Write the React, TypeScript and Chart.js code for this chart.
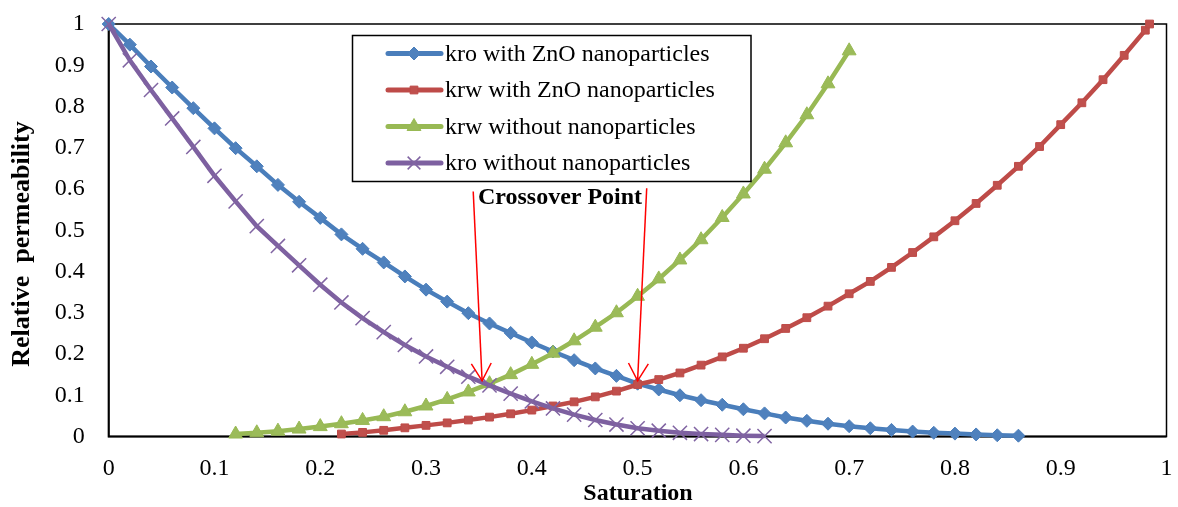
import React, { useEffect, useRef } from 'react';
import { Chart, registerables } from 'chart.js';
import { drawPoint } from 'chart.js/helpers';

Chart.register(...registerables);

// ---------- data ----------
const satKroZnO = [0, 0.02, 0.04, 0.06, 0.08, 0.1, 0.12, 0.14, 0.16, 0.18, 0.2, 0.22, 0.24, 0.26, 0.28, 0.3, 0.32, 0.34, 0.36, 0.38, 0.4, 0.42, 0.44, 0.46, 0.48, 0.5, 0.52, 0.54, 0.56, 0.58, 0.6, 0.62, 0.64, 0.66, 0.68, 0.7, 0.72, 0.74, 0.76, 0.78, 0.8, 0.82, 0.84, 0.86];
const kroZnO = [1.0, 0.95, 0.897, 0.846, 0.796, 0.747, 0.699, 0.655, 0.61, 0.569, 0.53, 0.49, 0.455, 0.422, 0.388, 0.356, 0.327, 0.299, 0.274, 0.251, 0.228, 0.206, 0.185, 0.165, 0.147, 0.128, 0.114, 0.1, 0.088, 0.077, 0.066, 0.056, 0.046, 0.038, 0.031, 0.025, 0.02, 0.016, 0.012, 0.009, 0.007, 0.005, 0.003, 0.002];

const satKrwZnO = [0.22, 0.24, 0.26, 0.28, 0.3, 0.32, 0.34, 0.36, 0.38, 0.4, 0.42, 0.44, 0.46, 0.48, 0.5, 0.52, 0.54, 0.56, 0.58, 0.6, 0.62, 0.64, 0.66, 0.68, 0.7, 0.72, 0.74, 0.76, 0.78, 0.8, 0.82, 0.84, 0.86, 0.88, 0.9, 0.92, 0.94, 0.96, 0.98, 0.984];
const krwZnO = [0.006, 0.01, 0.015, 0.021, 0.027, 0.033, 0.04, 0.047, 0.055, 0.064, 0.074, 0.084, 0.096, 0.11, 0.126, 0.138, 0.154, 0.173, 0.193, 0.214, 0.237, 0.262, 0.288, 0.316, 0.346, 0.376, 0.41, 0.446, 0.484, 0.523, 0.565, 0.609, 0.655, 0.703, 0.756, 0.809, 0.865, 0.924, 0.985, 1.0];

const satKrwNo = [0.12, 0.14, 0.16, 0.18, 0.2, 0.22, 0.24, 0.26, 0.28, 0.3, 0.32, 0.34, 0.36, 0.38, 0.4, 0.42, 0.44, 0.46, 0.48, 0.5, 0.52, 0.54, 0.56, 0.58, 0.6, 0.62, 0.64, 0.66, 0.68, 0.7];
const krwNo = [0.006, 0.009, 0.013, 0.018, 0.024, 0.031, 0.039, 0.048, 0.06, 0.074, 0.09, 0.108, 0.128, 0.15, 0.175, 0.202, 0.232, 0.265, 0.3, 0.34, 0.382, 0.428, 0.477, 0.531, 0.588, 0.648, 0.712, 0.78, 0.855, 0.935];

const satKroNo = [0, 0.02, 0.04, 0.06, 0.08, 0.1, 0.12, 0.14, 0.16, 0.18, 0.2, 0.22, 0.24, 0.26, 0.28, 0.3, 0.32, 0.34, 0.36, 0.38, 0.4, 0.42, 0.44, 0.46, 0.48, 0.5, 0.52, 0.54, 0.56, 0.58, 0.6, 0.62];
const kroNo = [1.0, 0.912, 0.84, 0.771, 0.702, 0.632, 0.57, 0.51, 0.462, 0.415, 0.368, 0.325, 0.287, 0.253, 0.222, 0.194, 0.169, 0.145, 0.124, 0.104, 0.085, 0.068, 0.053, 0.04, 0.029, 0.02, 0.014, 0.009, 0.006, 0.004, 0.002, 0.001];

const seriesNames = ['kro with ZnO nanoparticles', 'krw with ZnO nanoparticles', 'krw without nanoparticles', 'kro without nanoparticles'];

// tick labels (both axes)
const tickValues = [0, 0.1, 0.2, 0.3, 0.4, 0.5, 0.6, 0.7, 0.8, 0.9, 1];
const tickLabels = ['0', '0.1', '0.2', '0.3', '0.4', '0.5', '0.6', '0.7', '0.8', '0.9', '1'];

// crossover annotation (data coordinates)
const crossoverLabel = 'Crossover Point';
const arrowFrom = [[0.3446, 0.594], [0.5086, 0.602]];
const arrowTo = [[0.353, 0.135], [0.5, 0.135]];

const xTitle = 'Saturation';
const yTitle = 'Relative  permeability';

// ---------- styles ----------
const SERIF = "'Liberation Serif', 'Times New Roman', serif";
const styles = [
  { line: '#4A7EBB', fill: '#4F81BD', pointStyle: 'rectRot', radius: 6.5, pbw: 1 },
  { line: '#BE4B48', fill: '#C0504D', pointStyle: 'rect', radius: 5.5, pbw: 1 },
  { line: '#98B954', fill: '#9BBB59', pointStyle: 'triangle', radius: 8, pbw: 1 },
  { line: '#7D60A0', fill: '#8064A2', pointStyle: 'crossRot', radius: 10, pbw: 1.5 },
];

const toXY = (xs: number[], ys: number[]) => xs.map((x, i) => ({ x, y: ys[i] }));

const tickLabel = (v: number) => {
  const idx = tickValues.findIndex((t) => Math.abs(t - v) < 1e-6);
  return idx >= 0 ? tickLabels[idx] : '';
};

const overlayPlugin = {
  id: 'overlay',
  beforeDatasetsDraw(chart: any) {
    const { ctx, chartArea: a } = chart;
    ctx.save();
    ctx.strokeStyle = '#000';
    ctx.lineWidth = 1.5;
    ctx.strokeRect(a.left, a.top, a.right - a.left, a.bottom - a.top);
    ctx.lineWidth = 2;
    ctx.beginPath();
    ctx.moveTo(a.left, a.top);
    ctx.lineTo(a.left, a.bottom);
    ctx.lineTo(a.right, a.bottom);
    ctx.stroke();
    ctx.restore();
  },
  afterDraw(chart: any) {
    const { ctx, scales } = chart;
    const xs = scales.x;
    const ys = scales.y;
    ctx.save();

    // axis titles
    ctx.fillStyle = '#000';
    ctx.font = `bold 24px ${SERIF}`;
    ctx.textAlign = 'center';
    ctx.textBaseline = 'alphabetic';
    ctx.fillText(xTitle, 638, 500);

    ctx.save();
    ctx.translate(29, 244);
    ctx.rotate(-Math.PI / 2);
    ctx.font = `bold 26px ${SERIF}`;
    ctx.fillText(yTitle, 0, 0);
    ctx.restore();

    // legend
    const box = { l: 352.5, t: 35.5, r: 751, b: 181.5 };
    ctx.fillStyle = '#fff';
    ctx.fillRect(box.l, box.t, box.r - box.l, box.b - box.t);
    ctx.strokeStyle = '#000';
    ctx.lineWidth = 1.5;
    ctx.strokeRect(box.l, box.t, box.r - box.l, box.b - box.t);
    seriesNames.forEach((name, i) => {
      const s = styles[i];
      const y = 53.5 + i * 36.5;
      ctx.strokeStyle = s.line;
      ctx.lineWidth = 5;
      ctx.lineCap = 'round';
      ctx.beginPath();
      ctx.moveTo(388, y);
      ctx.lineTo(441, y);
      ctx.stroke();
      ctx.lineCap = 'butt';
      ctx.fillStyle = s.fill;
      ctx.strokeStyle = s.pointStyle === 'crossRot' ? s.fill : s.line;
      ctx.lineWidth = s.pbw;
      drawPoint(ctx, { pointStyle: s.pointStyle, radius: s.pointStyle === 'crossRot' ? 9 : s.radius, rotation: 0, borderWidth: s.pbw } as any, 414, y);
      ctx.fillStyle = '#000';
      ctx.font = `24px ${SERIF}`;
      ctx.textAlign = 'left';
      ctx.textBaseline = 'middle';
      ctx.fillText(name, 445, y + 1);
    });

    // crossover label + arrows
    ctx.fillStyle = '#000';
    ctx.font = `bold 24px ${SERIF}`;
    ctx.textAlign = 'center';
    ctx.textBaseline = 'alphabetic';
    ctx.fillText(crossoverLabel, 560, 204);

    ctx.strokeStyle = '#FF0000';
    ctx.lineWidth = 1.5;
    arrowFrom.forEach((from, i) => {
      const x0 = xs.getPixelForValue(from[0]);
      const y0 = ys.getPixelForValue(from[1]);
      const x1 = xs.getPixelForValue(arrowTo[i][0]);
      const y1 = ys.getPixelForValue(arrowTo[i][1]);
      ctx.beginPath();
      ctx.moveTo(x0, y0);
      ctx.lineTo(x1, y1);
      ctx.stroke();
      const ang = Math.atan2(y1 - y0, x1 - x0);
      const len = 20;
      const spread = 0.52;
      ctx.beginPath();
      ctx.moveTo(x1 - len * Math.cos(ang - spread), y1 - len * Math.sin(ang - spread));
      ctx.lineTo(x1, y1);
      ctx.lineTo(x1 - len * Math.cos(ang + spread), y1 - len * Math.sin(ang + spread));
      ctx.stroke();
    });
    ctx.restore();
  },
};

export default function App() {
  const ref = useRef<HTMLCanvasElement>(null);
  useEffect(() => {
    document.body.style.margin = '0';
    const seriesData = [
      toXY(satKroZnO, kroZnO),
      toXY(satKrwZnO, krwZnO),
      toXY(satKrwNo, krwNo),
      toXY(satKroNo, kroNo),
    ];
    const chart = new Chart(ref.current as HTMLCanvasElement, {
      type: 'line',
      data: {
        datasets: seriesData.map((d, i) => ({
          label: seriesNames[i],
          data: d,
          borderColor: styles[i].line,
          backgroundColor: styles[i].fill,
          borderWidth: 4.5,
          pointStyle: styles[i].pointStyle as any,
          pointRadius: styles[i].radius,
          pointBackgroundColor: styles[i].fill,
          pointBorderColor: styles[i].pointStyle === 'crossRot' ? styles[i].fill : styles[i].line,
          pointBorderWidth: styles[i].pbw,
          tension: 0,
          fill: false,
          clip: false as any,
          order: 4 - i,
        })),
      },
      options: {
        responsive: false,
        animation: false,
        layout: { padding: { top: 24, right: 7, left: 0, bottom: 0 } },
        plugins: { legend: { display: false }, tooltip: { enabled: false } },
        scales: {
          x: {
            type: 'linear',
            min: 0,
            max: 1,
            grid: { display: false, drawTicks: false, tickLength: 0 },
            border: { display: false },
            ticks: {
              stepSize: 0.1,
              autoSkip: false,
              maxRotation: 0,
              padding: 18,
              color: '#000',
              font: { family: SERIF, size: 24 },
              callback: (v: any) => tickLabel(Number(v)),
            },
            afterFit: (scale: any) => {
              scale.height = 70.5;
              scale.paddingLeft = 0;
              scale.paddingRight = 0;
            },
          },
          y: {
            type: 'linear',
            min: 0,
            max: 1,
            grid: { display: false, drawTicks: false, tickLength: 0 },
            border: { display: false },
            ticks: {
              stepSize: 0.1,
              padding: 24,
              color: '#000',
              font: { family: SERIF, size: 24 },
              callback: (v: any) => tickLabel(Number(v)),
            },
            afterFit: (scale: any) => {
              scale.width = 108.7;
              scale.paddingTop = 0;
              scale.paddingBottom = 0;
            },
          },
        },
      },
      plugins: [overlayPlugin],
    });
    return () => chart.destroy();
  }, []);
  return (
    <div style={{ width: 1178, height: 507 }}>
      <canvas ref={ref} width={1178} height={507} style={{ display: 'block' }} />
    </div>
  );
}
